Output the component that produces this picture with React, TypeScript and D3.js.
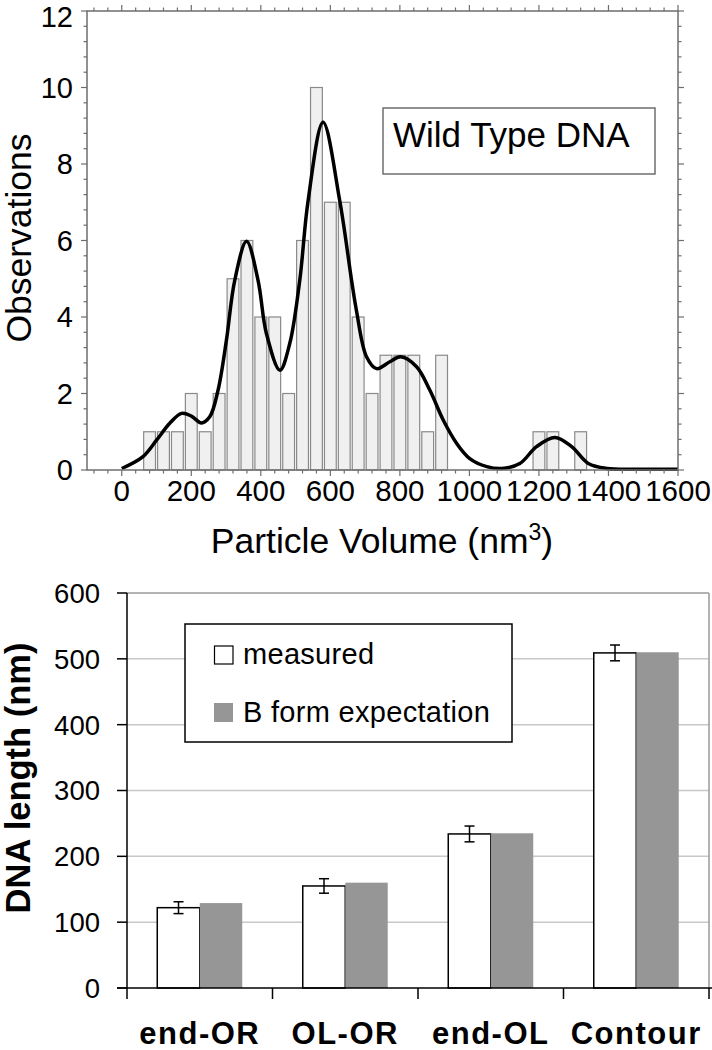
import React from "react";
import * as d3 from "d3";

// ---------- Top chart data (histogram + fitted curve) ----------
const binCenters = [80, 120, 160, 200, 240, 280, 320, 360, 400, 440, 480, 520, 560, 600, 640, 680, 720, 760, 800, 840, 880, 920, 1200, 1240, 1320];
const binCounts = [1, 1, 1, 2, 1, 2, 5, 6, 4, 4, 2, 6, 10, 7, 7, 4, 2, 3, 3, 3, 1, 3, 1, 1, 1];
const curveX = [0, 61, 100, 138, 172, 200, 229, 253, 277, 301, 325, 359, 392, 416, 455, 483, 512, 536, 579, 627, 661, 675, 704, 733, 771, 802, 848, 886, 925, 963, 1001, 1050, 1093, 1145, 1193, 1246, 1294, 1342, 1395, 1500, 1600];
const curveY = [0.04, 0.35, 0.78, 1.22, 1.48, 1.41, 1.23, 1.39, 2.09, 3.39, 4.96, 5.98, 4.96, 3.57, 2.61, 3.3, 4.96, 7.04, 9.09, 7.04, 4.96, 4.17, 2.96, 2.65, 2.83, 2.96, 2.7, 2.09, 1.3, 0.7, 0.3, 0.09, 0.04, 0.17, 0.61, 0.85, 0.61, 0.17, 0.04, 0.02, 0.02];
const topXTicks = [0, 200, 400, 600, 800, 1000, 1200, 1400, 1600];
const topYTicks = [0, 2, 4, 6, 8, 10, 12];

// ---------- Bottom chart data ----------
const categories = ["end-OR", "OL-OR", "end-OL", "Contour"];
const measured = [122, 155, 234, 509];
const measuredErr = [9, 11, 12, 12];
const bForm = [129, 160, 235, 510];
const bottomYTicks = [0, 100, 200, 300, 400, 500, 600];

const FONT = "'Liberation Sans', Arial, sans-serif";

export default function App() {
  // Top chart scales
  const xT = d3.scaleLinear().domain([-100, 1600]).range([87, 678]);
  const yT = d3.scaleLinear().domain([0, 12]).range([470, 11]);
  const frameCol = "#6e6e6e";

  const minorX = d3.range(-80, 1601, 40);
  const minorY = d3.range(0, 12.01, 0.4);

  const line = d3
    .line<number>()
    .x((_, i) => xT(curveX[i]))
    .y((d) => yT(d))
    .curve(d3.curveCatmullRom.alpha(0.5));

  // Bottom chart scales
  const yB = d3.scaleLinear().domain([0, 600]).range([988, 593]);
  const xB = d3.scaleBand<string>().domain(categories).range([127, 709]);
  const bw = xB.bandwidth() * 0.292;
  const barLeft = (c: string) => (xB(c) as number) + (xB.bandwidth() - 2 * bw) / 2;

  return (
    <svg width={712} height={1050} style={{ display: "block", position: "absolute", left: 0, top: 0 }} fontFamily={FONT}>
      <rect x={0} y={0} width={712} height={1050} fill="#ffffff" />

      {/* ===== Top chart ===== */}
      {binCenters.map((c, i) => (
        <rect
          key={"b" + i}
          x={xT(c - 17)}
          y={yT(binCounts[i])}
          width={xT(c + 17) - xT(c - 17)}
          height={yT(0) - yT(binCounts[i])}
          fill="#f0f0f0"
          stroke="#8a8a8a"
          strokeWidth={1.2}
        />
      ))}
      <path d={line(curveY) || ""} fill="none" stroke="#000" strokeWidth={3.5} />

      <rect x={87} y={11} width={678 - 87} height={470 - 11} fill="none" stroke={frameCol} strokeWidth={1.5} />
      {minorX.map((v) => {
        const major = v % 200 === 0;
        const len = major ? 6 : 3.5;
        return (
          <g key={"tx" + v}>
            <line x1={xT(v)} x2={xT(v)} y1={470} y2={470 + len} stroke={frameCol} strokeWidth={1.2} />
            <line x1={xT(v)} x2={xT(v)} y1={11} y2={11 - len} stroke={frameCol} strokeWidth={1.2} />
          </g>
        );
      })}
      {minorY.map((v, i) => {
        const major = i % 5 === 0;
        const len = major ? 6 : 3.5;
        return (
          <g key={"ty" + i}>
            <line x1={87} x2={87 - len} y1={yT(v)} y2={yT(v)} stroke={frameCol} strokeWidth={1.2} />
            <line x1={678} x2={678 + len} y1={yT(v)} y2={yT(v)} stroke={frameCol} strokeWidth={1.2} />
          </g>
        );
      })}
      {topXTicks.map((v) => (
        <text key={"lx" + v} x={xT(v)} y={501} textAnchor="middle" fontSize={29.5} fill="#000">
          {v}
        </text>
      ))}
      {topYTicks.map((v) => (
        <text key={"ly" + v} x={73} y={yT(v) + (v === 12 ? 6 : 0)} dy="0.36em" textAnchor="end" fontSize={29} fill="#000">
          {v}
        </text>
      ))}
      <text x={382} y={553} textAnchor="middle" fontSize={35.5} fill="#000">
        Particle Volume (nm
        <tspan dy={-13} fontSize={23}>3</tspan>
        <tspan dy={13}>)</tspan>
      </text>
      <text transform="translate(31,238) rotate(-90)" textAnchor="middle" fontSize={35.5} fill="#000">
        Observations
      </text>
      <rect x={383} y={108} width={272} height={66} fill="#fff" stroke={frameCol} strokeWidth={1.5} />
      <text x={393} y={147} fontSize={35} fill="#000">
        Wild Type DNA
      </text>

      {/* ===== Bottom chart ===== */}
      {bottomYTicks.slice(1, 6).map((v) => (
        <line key={"g" + v} x1={127} x2={709} y1={yB(v)} y2={yB(v)} stroke="#c8c8c8" strokeWidth={1.5} />
      ))}
      <line x1={127} x2={709} y1={yB(600)} y2={yB(600)} stroke="#9a9a9a" strokeWidth={1.5} />
      <line x1={709} x2={709} y1={yB(600)} y2={yB(0)} stroke="#9a9a9a" strokeWidth={1.5} />

      {categories.map((c, i) => {
        const l = barLeft(c);
        const cx = l + bw / 2;
        return (
          <g key={"c" + c}>
            <rect x={l} y={yB(measured[i])} width={bw} height={yB(0) - yB(measured[i])} fill="#fff" stroke="#000" strokeWidth={1.5} />
            <rect x={l + bw} y={yB(bForm[i])} width={bw} height={yB(0) - yB(bForm[i])} fill="#969696" />
            <line x1={cx} x2={cx} y1={yB(measured[i] + measuredErr[i])} y2={yB(measured[i] - measuredErr[i])} stroke="#000" strokeWidth={1.5} />
            <line x1={cx - 5} x2={cx + 5} y1={yB(measured[i] + measuredErr[i])} y2={yB(measured[i] + measuredErr[i])} stroke="#000" strokeWidth={1.5} />
            <line x1={cx - 5} x2={cx + 5} y1={yB(measured[i] - measuredErr[i])} y2={yB(measured[i] - measuredErr[i])} stroke="#000" strokeWidth={1.5} />
          </g>
        );
      })}

      <line x1={127} x2={127} y1={yB(600)} y2={yB(0)} stroke="#000" strokeWidth={1.5} />
      <line x1={117} x2={712} y1={yB(0)} y2={yB(0)} stroke="#000" strokeWidth={1.5} />
      {bottomYTicks.map((v) => (
        <g key={"by" + v}>
          <line x1={117} x2={127} y1={yB(v)} y2={yB(v)} stroke="#000" strokeWidth={1.5} />
          <text x={100} y={yB(v)} dy="0.36em" textAnchor="end" fontSize={27.5} fill="#000">
            {v}
          </text>
        </g>
      ))}
      {[...categories.map((c) => xB(c) as number), 709].map((x, i) => (
        <line key={"bt" + i} x1={x} x2={x} y1={988} y2={999} stroke="#000" strokeWidth={1.5} />
      ))}
      {categories.map((c) => (
        <text key={"cl" + c} x={(xB(c) as number) + xB.bandwidth() / 2} y={1044} textAnchor="middle" fontSize={31} fontWeight="bold" letterSpacing={1.5} fill="#000">
          {c}
        </text>
      ))}
      <text transform="translate(30,778) rotate(-90)" textAnchor="middle" fontSize={34.5} fontWeight="bold" fill="#000">
        DNA length (nm)
      </text>

      <rect x={185} y={624} width={327} height={118} fill="#fff" stroke="#000" strokeWidth={1.5} />
      <rect x={214.5} y={646} width={18.5} height={18} fill="#fff" stroke="#000" strokeWidth={1.2} />
      <text x={243} y={664} fontSize={29} letterSpacing={0.3} fill="#000">
        measured
      </text>
      <rect x={214} y={703} width={19} height={19} fill="#969696" />
      <text x={243} y={722} fontSize={29} letterSpacing={0.3} fill="#000">
        B form expectation
      </text>
    </svg>
  );
}
